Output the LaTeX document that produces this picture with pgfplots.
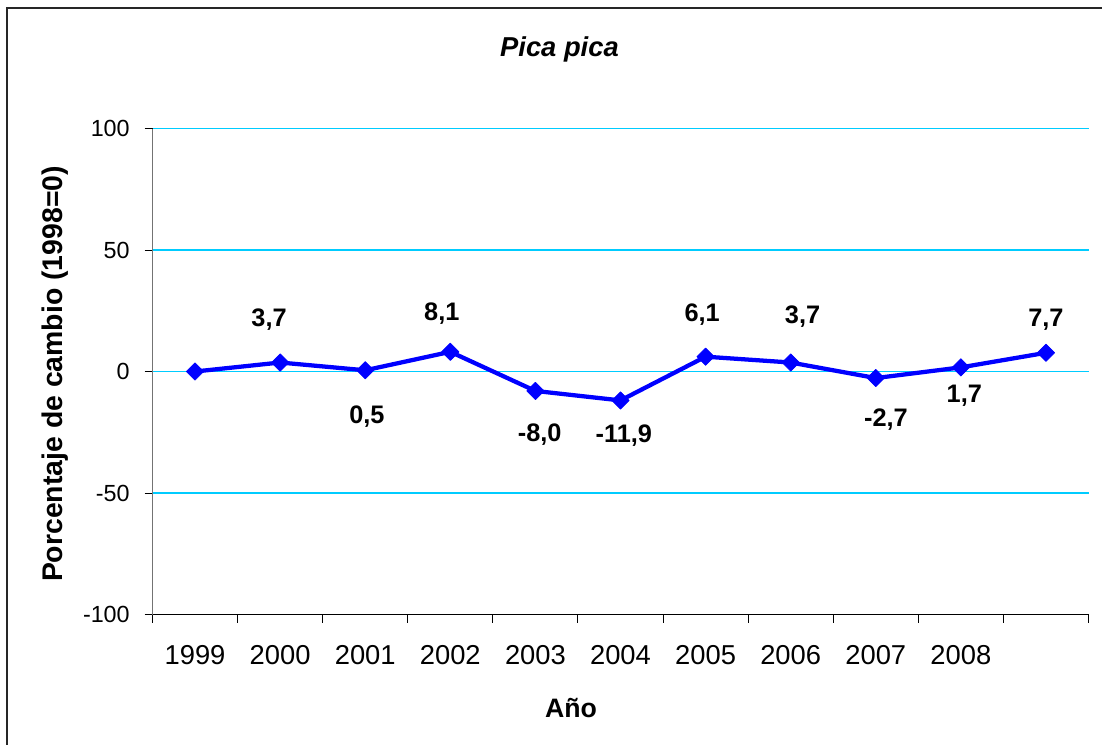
\documentclass[border=0pt]{standalone}
\usepackage{pgfplots}
\pgfplotsset{compat=1.18}
\usepackage{fontspec}
\setmainfont{Liberation Sans}
\definecolor{gridc}{RGB}{0,204,255}
\definecolor{serie}{RGB}{0,0,255}
\begin{document}
\begin{tikzpicture}
\useasboundingbox (0pt,0pt) rectangle (826.5pt,558pt);
\fill[white] (0pt,0pt) rectangle (826.5pt,558pt);
\draw[line width=1.5pt, black!85] (5.6pt,-5pt) -- (5.6pt,552pt) -- (835pt,552pt);
\begin{axis}[
  at={(114.375pt,97.125pt)}, anchor=south west,
  scale only axis, width=702pt, height=364.5pt,
  clip=false,
  xmin=-0.5, xmax=10.5, ymin=-100, ymax=100,
  axis line style={draw=none},
  tick pos=left,
  tick align=outside, major tick length=6pt,
  xtick style={draw=none},
  ytick style={black, line width=0.75pt},
  xtick={-0.5,0.5,...,10.5},
  xticklabels={1999,2000,2001,2002,2003,2004,2005,2006,2007,2008,{},{}},
  xticklabel style={font=\fontsize{20.5}{24}\selectfont, anchor=north, inner sep=0pt, xshift=31.9pt, yshift=-16.9pt},
  ytick={-100,-50,0,50,100},
  /pgf/number format/assume math mode=true,
  yticklabel style={font=\fontsize{17.5}{20}\selectfont, anchor=east, inner sep=0pt, xshift=-10.9pt},
  title={Pica pica},
  title style={at={(axis description cs:0.4348,1.1327)}, anchor=base, font=\bfseries\itshape\fontsize{20.5}{24}\selectfont},
  xlabel={Año},
  xlabel style={at={(axis description cs:0.4471,-0.2109)}, anchor=base, font=\bfseries\fontsize{20}{24}\selectfont},
  ylabel={Porcentaje de cambio (1998=0)},
  ylabel style={at={(axis description cs:-0.1042,0.4949)}, anchor=center, rotate=0, font=\bfseries\fontsize{21.3}{24}\selectfont},
]
% horizontal grid lines
\addplot[gridc, line width=1.2pt, forget plot, mark=none] coordinates {(-0.5,100) (10.5,100)};
\addplot[gridc, line width=1.2pt, forget plot, mark=none] coordinates {(-0.5,50) (10.5,50)};
\addplot[gridc, line width=1.2pt, forget plot, mark=none] coordinates {(-0.5,0) (10.5,0)};
\addplot[gridc, line width=1.2pt, forget plot, mark=none] coordinates {(-0.5,-50) (10.5,-50)};
% axis lines and category tick marks
\draw[black!55, line width=0.9pt] (rel axis cs:0,0) -- (rel axis cs:0,1);
\draw[black, line width=0.9pt] (rel axis cs:0,0) -- (rel axis cs:1,0);
\draw[black, line width=0.75pt]
  (axis cs:-0.5,-100) -- ++(0pt,-6pt)
  (axis cs:0.5,-100) -- ++(0pt,-6pt)
  (axis cs:1.5,-100) -- ++(0pt,-6pt)
  (axis cs:2.5,-100) -- ++(0pt,-6pt)
  (axis cs:3.5,-100) -- ++(0pt,-6pt)
  (axis cs:4.5,-100) -- ++(0pt,-6pt)
  (axis cs:5.5,-100) -- ++(0pt,-6pt)
  (axis cs:6.5,-100) -- ++(0pt,-6pt)
  (axis cs:7.5,-100) -- ++(0pt,-6pt)
  (axis cs:8.5,-100) -- ++(0pt,-6pt)
  (axis cs:9.5,-100) -- ++(0pt,-6pt)
  (axis cs:10.5,-100) -- ++(0pt,-6pt);
\addplot[serie, line width=3.2pt, line join=round, mark=square*, mark size=4.6pt,
  mark options={rotate=45, fill=serie, draw=serie, line width=0.5pt}] table {
x y
0 0
1 3.7
2 0.5
3 8.1
4 -8.0
5 -11.9
6 6.1
7 3.7
8 -2.7
9 1.7
10 7.7
};
\addplot[only marks, mark=*, mark size=0pt, mark options={draw=none, fill=none},
  nodes near coords, point meta=explicit symbolic, nodes near coords align={center},
  every node near coord/.append style={font=\bfseries\fontsize{19}{22}\selectfont, text=black, anchor=center, inner sep=0pt}]
  table[meta=lab] {
x y lab
0.87 21.2 3,7
2.02 -18.7 0,5
2.90 23.7 8,1
4.05 -26.1 -8,0
5.04 -26.5 -11,9
5.96 23.3 6,1
7.14 22.4 3,7
8.12 -20.0 -2,7
9.04 -10.1 1,7
10.0 21.2 7,7
};
\end{axis}
\end{tikzpicture}
\end{document}
